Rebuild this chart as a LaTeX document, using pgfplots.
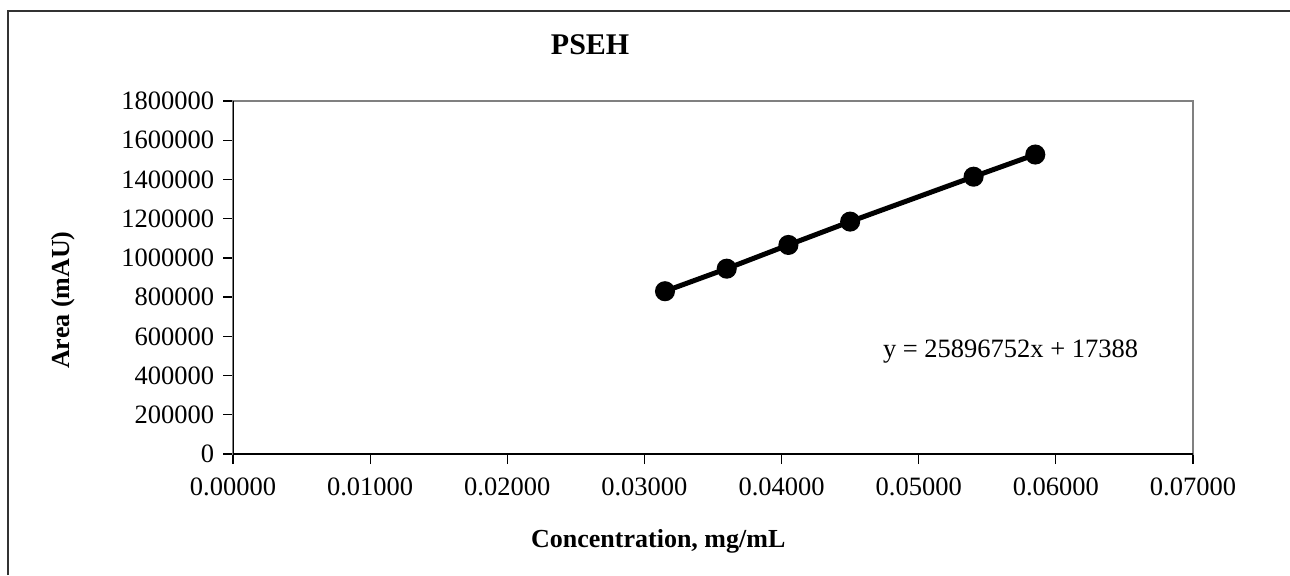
\documentclass[border=0pt]{standalone}
\usepackage{fontspec}
\setmainfont{Liberation Serif}
\usepackage{pgfplots}
\pgfplotsset{compat=1.18}

% calibration points
\pgfplotstableread{
conc      area
0.0315    830000
0.0360    945000
0.0405    1066000
0.0450    1185000
0.0540    1414000
0.0585    1527000
}\pseh

\begin{document}
\begin{tikzpicture}
% 1 px of the reference = 0.4pt
\useasboundingbox (0,0) rectangle (516pt,230pt);
\draw[black!80, line width=0.5pt] (3.2pt,0) -- (3.2pt,225.6pt) -- (516pt,225.6pt);
\begin{axis}[
    at={(93.2pt,48.4pt)}, anchor=south west,
    scale only axis,
    width=384pt, height=141.2pt,
    xmin=0, xmax=0.07,
    ymin=0, ymax=1800000,
    xtick={0,0.01,...,0.07},
    ytick={0,200000,...,1800000},
    scaled x ticks=false, scaled y ticks=false,
    xticklabel style={yshift=-2pt, /pgf/number format/fixed, /pgf/number format/fixed zerofill, /pgf/number format/precision=5, /pgf/number format/assume math mode=true},
    yticklabel style={/pgf/number format/fixed, /pgf/number format/1000 sep={}, /pgf/number format/assume math mode=true},
    ticklabel style={font=\fontsize{10.6}{12.7}\selectfont},
    tick align=outside,
    xtick pos=left, ytick pos=left,
    major tick length=4pt,
    major tick style={black, line width=0.5pt},
    axis line style={gray, line width=0.8pt},
    title={PSEH},
    % the default title style already shifts it up by 6pt
    title style={at={(rel axis cs:0.372,1.088)}, anchor=base, font=\bfseries\fontsize{12}{14}\selectfont},
    xlabel={Concentration, mg/mL},
    xlabel style={at={(rel axis cs:0.443,-0.2635)}, anchor=base, font=\bfseries\fontsize{10.4}{12.5}\selectfont},
    ylabel={Area (mAU)},
    ylabel style={at={(rel axis cs:-0.1708,0.436)}, anchor=base, font=\bfseries\fontsize{10.4}{12.5}\selectfont},
]
\draw[black, line width=0.6pt] (rel axis cs:0,1) -- (rel axis cs:0,0) -- (rel axis cs:1,0);
\addplot[black, line width=2pt, mark=*, mark size=3pt] table[x=conc, y=area] {\pseh};
\node[anchor=base, inner sep=0pt, font=\fontsize{10.6}{12.7}\selectfont] at (rel axis cs:0.81,0.272) {y = 25896752x + 17388};
\end{axis}
\end{tikzpicture}
\end{document}
